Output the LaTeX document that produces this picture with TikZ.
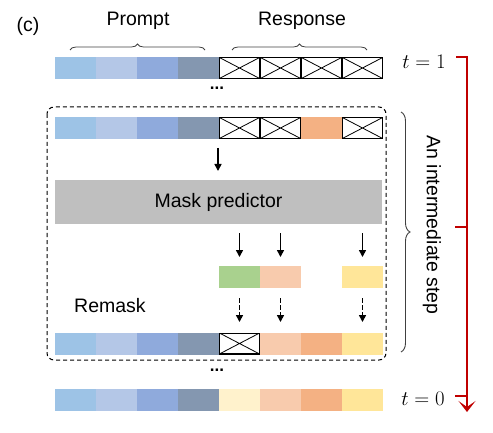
\documentclass[tikz,border=0pt]{standalone}
\usepackage{fontspec}
\setmainfont{Liberation Sans}
\usetikzlibrary{arrows.meta,decorations.pathreplacing}
\definecolor{pA}{HTML}{9DC3E6}
\definecolor{pB}{HTML}{B4C7E7}
\definecolor{pC}{HTML}{8FAADC}
\definecolor{pD}{HTML}{8497B0}
\definecolor{rG}{HTML}{A9D18E}
\definecolor{rP}{HTML}{F8CBAD}
\definecolor{rO}{HTML}{F4B183}
\definecolor{rY}{HTML}{FFE699}
\definecolor{rL}{HTML}{FFF2CC}
\definecolor{gr}{HTML}{BFBFBF}
\definecolor{red1}{HTML}{C00000}
\begin{document}
\begin{tikzpicture}[x=1pt,y=-1pt,
  cell/.style={minimum width=41pt,minimum height=22pt,inner sep=0pt,outer sep=0pt,draw=none},
  maskc/.style={cell,fill=white,draw=black,line width=1.3pt,minimum width=39.7pt,minimum height=20.7pt,
    path picture={\draw[line width=0.8pt] (path picture bounding box.north west)--(path picture bounding box.south east)
      (path picture bounding box.south west)--(path picture bounding box.north east);}},
  lbl/.style={font=\fontsize{19.5}{22}\selectfont,inner sep=0pt},
  tl/.style={inner sep=0pt,font=\fontsize{20}{22}\selectfont},
  brc/.style={decorate,decoration={brace,amplitude=6pt},draw=black!75,line width=0.8pt},
  arr/.style={-{Triangle[length=7pt,width=7pt]},line width=1.6pt},
  darr/.style={arr,dash pattern=on 4.5pt off 2.5pt},
  dots/.style={font=\fontsize{17}{17}\selectfont\bfseries,inner sep=0pt},
  redl/.style={red1,line width=2.2pt}
]
\useasboundingbox (0,0) rectangle (493,433);
% ----- row 1 (t=1)
\foreach \c [count=\i from 0] in {pA,pB,pC,pD} \node[cell,fill=\c] (a\i) at ({75.5+41*\i},68) {};
\foreach \i in {4,5,6,7} \node[maskc] (a\i) at ({75.5+41*\i},68) {};
% braces and labels
\draw[brc] (70,50) -- (205,50);
\draw[brc] (232,50) -- (367,50);
\node[lbl] (prompt) at (138,21) {Prompt};
\node[lbl] (resp) at (302,21) {Response};
\node[lbl] (c) at (28,26) {(c)};
\node[dots] (d1) at (217,88) {...};
% ----- row 2
\foreach \c [count=\i from 0] in {pA,pB,pC,pD} \node[cell,fill=\c] (b\i) at ({75.5+41*\i},128) {};
\node[maskc] (b4) at (239.5,128) {};
\node[maskc] (b5) at (280.5,128) {};
\node[cell,fill=rO] (b6) at (321.5,128) {};
\node[maskc] (b7) at (362.5,128) {};
% mask predictor
\node[cell,fill=gr,minimum width=327pt,minimum height=44pt] (mp) at (218.5,202) {};
\node[lbl] (mpt) at (mp) {Mask predictor};
\coordinate (s1) at (218,148);
\coordinate (s2) at (218,171);
\draw[arr] (s1) -- (s2);
% predictions
\node[cell,fill=rG] (p4) at (239.5,276.5) {};
\node[cell,fill=rP] (p5) at (280.5,276.5) {};
\node[cell,fill=rY] (p7) at (362.5,276.5) {};
\foreach \n in {p4,p5,p7} {
  \draw[arr] (\n.center |- 0,233) -- (\n.center |- 0,257);
}
\node[lbl] (rm) at (110,306) {Remask};
% row 3
\foreach \c [count=\i from 0] in {pA,pB,pC,pD} \node[cell,fill=\c] (e\i) at ({75.5+41*\i},343.5) {};
\node[maskc] (e4) at (239.5,343.5) {};
\node[cell,fill=rP] (e5) at (280.5,343.5) {};
\node[cell,fill=rO] (e6) at (321.5,343.5) {};
\node[cell,fill=rY] (e7) at (362.5,343.5) {};
\draw[darr] (p4.center |- 0,298) -- (e4.center |- 0,322);
\draw[darr] (p5.center |- 0,298) -- (e5.center |- 0,322);
\draw[darr] (p7.center |- 0,298) -- (e7.center |- 0,322);
% dashed box
\draw[dash pattern=on 4pt off 3pt,line width=1pt,rounded corners=7pt] (47,107) rectangle (386,360);
\node[dots] (d2) at (217,370) {...};
% row 4 (t=0)
\foreach \c [count=\i from 0] in {pA,pB,pC,pD,rL,rP,rO,rY} \node[cell,fill=\c] (f\i) at ({75.5+41*\i},399.5) {};
% right brace
\draw[decorate,decoration={brace,amplitude=9pt},draw=black!75,line width=0.9pt] (401,112) -- (401,352);
\node[lbl,rotate=-90] (step) at (432,225) {An intermediate step};
% time labels
\node[tl] (t1) at (424,62) {$t=1$};
\node[tl] (t0) at (423,399) {$t=0$};
% red timeline
\coordinate (r0) at (456,57);
\coordinate (r1) at (467,57);
\coordinate (r2) at (467,412);
\draw[redl,-{Stealth[length=11pt,width=17pt,inset=6pt]}] (r0) -- (r1) -- (r2);
\coordinate (k0) at (455,227);
\draw[redl] (k0) -- (k0 -| r1);
\coordinate (k1) at (455,396);
\draw[redl] (k1) -- (k1 -| r1);
\end{tikzpicture}
\end{document}
